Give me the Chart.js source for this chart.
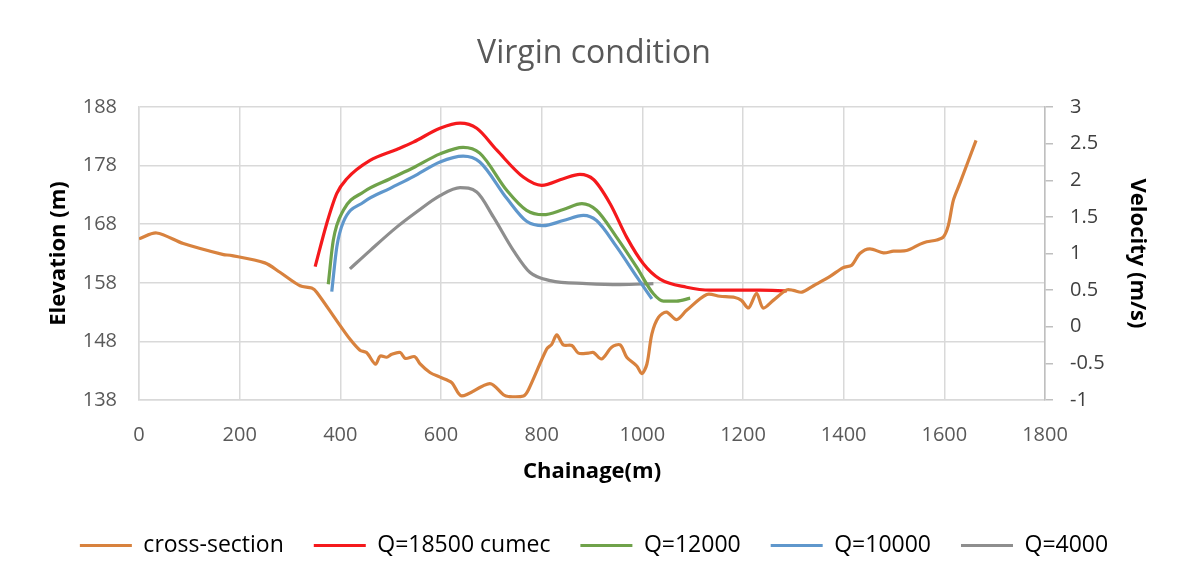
<!DOCTYPE html>
<html>
<head>
<meta charset="utf-8">
<script src="https://cdn.jsdelivr.net/npm/chart.js@4"></script>
<style>
html,body{margin:0;padding:0;background:#fff;}
#wrap{width:1188px;height:578px;position:relative;}
</style>
</head>
<body>
<div id="wrap"><canvas id="c" width="1188" height="578"></canvas></div>
<script>
const titleText = "Virgin condition";
const xTitle = "Chainage(m)";
const yLeftTitle = "Elevation (m)";
const yRightTitle = "Velocity (m/s)";
const seriesNames = ["cross-section","Q=18500 cumec","Q=12000","Q=10000","Q=4000"];

// cross-section: chainage (m), elevation (m)
const csX = [0,35,88,168,181,250,280,320,343,353,393,419,439,452,470,479,492,502,519,529,548,558,578,598,621,641,697,724,734,764,774,810,820,830,843,860,873,893,903,919,939,956,969,989,999,1009,1019,1032,1048,1068,1088,1128,1154,1184,1197,1211,1227,1240,1260,1287,1300,1317,1340,1373,1399,1416,1432,1452,1479,1499,1525,1552,1565,1585,1598,1608,1618,1631,1663];
const csY = [165.5,166.5,164.7,162.8,162.7,161.4,159.8,157.5,157.1,156.4,151.5,148.4,146.5,146.1,144.1,145.5,145.3,145.8,146.1,145.1,145.4,144.2,142.7,141.9,141.0,138.7,140.8,138.9,138.6,138.7,139.8,146.7,147.5,149.1,147.4,147.3,146.0,146.0,146.1,145.0,147.0,147.4,145.3,143.8,142.5,144.1,149.3,152.1,153.0,151.7,153.3,156.0,155.7,155.5,155.0,153.7,156.2,153.7,155.0,156.8,156.7,156.4,157.5,159.1,160.6,161.0,163.0,163.8,163.1,163.4,163.5,164.6,165.0,165.3,165.8,167.8,172.1,175.0,182.3];

// velocities (m/s)
const q18500X = [350,373,393,413,459,512,545,598,638,671,711,764,800,843,876,903,936,969,1002,1035,1088,1135,1234,1287];
const q18500Y = [0.82,1.41,1.82,2.02,2.27,2.42,2.52,2.71,2.78,2.71,2.41,2.04,1.93,2.02,2.08,2.01,1.68,1.22,0.86,0.65,0.54,0.50,0.50,0.49];

const q12000X = [376,386,406,446,499,545,598,644,677,731,770,803,843,880,909,949,989,1022,1042,1068,1095];
const q12000Y = [0.58,1.18,1.59,1.84,2.02,2.17,2.36,2.45,2.37,1.86,1.59,1.53,1.60,1.68,1.59,1.22,0.81,0.45,0.35,0.35,0.39];

const q10000X = [383,393,406,446,499,545,598,644,677,731,770,803,843,883,909,949,989,1019];
const q10000Y = [0.48,1.09,1.43,1.70,1.89,2.05,2.25,2.33,2.25,1.75,1.44,1.38,1.45,1.52,1.45,1.09,0.68,0.38];

const q4000X = [419,459,512,552,598,638,671,704,744,777,817,889,956,1022];
const q4000Y = [0.79,1.04,1.36,1.57,1.79,1.90,1.84,1.50,1.04,0.74,0.63,0.59,0.575,0.59];

const xTicks = [0,200,400,600,800,1000,1200,1400,1600,1800];
const yLeftTicks = [138,148,158,168,178,188];
const yRightTicks = ["-1","-0.5","0","0.5","1","1.5","2","2.5","3"];

const pts = (xs, ys) => xs.map((x, i) => ({x: x, y: ys[i]}));

const colors = ["#d8823e","#f5191c","#6fa24a","#5f97cc","#8e8e8e"];

const FONT = "'Open Sans', 'Liberation Sans', sans-serif";

const ds = [
  {label: seriesNames[0], data: pts(csX, csY), yAxisID: 'y', borderColor: colors[0], backgroundColor: colors[0], tension: 0.3},
  {label: seriesNames[1], data: pts(q18500X, q18500Y), yAxisID: 'y1', borderColor: colors[1], backgroundColor: colors[1], cubicInterpolationMode: 'monotone'},
  {label: seriesNames[2], data: pts(q12000X, q12000Y), yAxisID: 'y1', borderColor: colors[2], backgroundColor: colors[2], cubicInterpolationMode: 'monotone'},
  {label: seriesNames[3], data: pts(q10000X, q10000Y), yAxisID: 'y1', borderColor: colors[3], backgroundColor: colors[3], cubicInterpolationMode: 'monotone'},
  {label: seriesNames[4], data: pts(q4000X, q4000Y), yAxisID: 'y1', borderColor: colors[4], backgroundColor: colors[4], cubicInterpolationMode: 'monotone'}
].map(d => Object.assign({borderWidth: 3.2, pointRadius: 0, fill: false, borderCapStyle: 'butt'}, d));

new Chart(document.getElementById('c'), {
  type: 'line',
  data: {datasets: ds},
  options: {
    responsive: false,
    animation: false,
    layout: {padding: {left: 0, right: 0, top: 0, bottom: 11}},
    plugins: {
      title: {
        display: true, text: titleText, color: '#595959',
        font: {family: FONT, size: 32, weight: 'normal'},
        padding: {top: 35, bottom: 33.6}
      },
      legend: {
        position: 'bottom',
        labels: {
          color: '#000', font: {family: FONT, size: 23},
          boxWidth: 52, boxHeight: 3, padding: 30,
          generateLabels: (chart) => chart.data.datasets.map((d, i) => ({
            text: d.label, fillStyle: d.borderColor, strokeStyle: d.borderColor,
            lineWidth: 0, hidden: false, datasetIndex: i, fontColor: '#000'
          }))
        }
      },
      tooltip: {enabled: false}
    },
    scales: {
      x: {
        type: 'linear', min: 0, max: 1800,
        afterBuildTicks: (s) => { s.ticks = xTicks.map(v => ({value: v})); },
        afterFit: (s) => { s.height = 104; },
        ticks: {color: '#595959', font: {family: FONT, size: 20}, padding: 23, maxRotation: 0,
          callback: (v) => String(v)},
        grid: {color: '#d9d9d9', lineWidth: 1.5, drawTicks: false},
        border: {display: true, color: '#d9d9d9', width: 1.5},
        title: {display: true, text: xTitle, color: '#000', font: {family: FONT, size: 22, weight: 'bold'}, padding: {top: 4, bottom: 19}}
      },
      y: {
        type: 'linear', position: 'left', min: 138, max: 188,
        afterBuildTicks: (s) => { s.ticks = yLeftTicks.map(v => ({value: v})); },
        afterFit: (s) => { s.width = 139; },
        ticks: {color: '#595959', font: {family: FONT, size: 20}, padding: 22, callback: (v) => String(v)},
        grid: {color: '#d9d9d9', lineWidth: 1.5, drawTicks: false},
        border: {display: true, color: '#d9d9d9', width: 1.5},
        title: {display: true, text: yLeftTitle, color: '#000', font: {family: FONT, size: 22, weight: 'bold'}, padding: {top: 46, bottom: 0}}
      },
      y1: {
        type: 'linear', position: 'right', min: -1, max: 3,
        afterBuildTicks: (s) => { s.ticks = yRightTicks.map(v => ({value: parseFloat(v)})); },
        afterFit: (s) => { s.width = 143; },
        ticks: {color: '#404040', font: {family: FONT, size: 20}, padding: 17,
          callback: (v) => yRightTicks[yRightTicks.map(parseFloat).indexOf(v)] },
        grid: {drawOnChartArea: false, drawTicks: true, tickLength: 8, color: '#bfbfbf', lineWidth: 1.5},
        border: {display: true, color: '#bfbfbf', width: 1.5},
        title: {display: true, text: yRightTitle, color: '#000', font: {family: FONT, size: 22, weight: 'bold'}, padding: {top: 38, bottom: 0}}
      }
    }
  }
});
</script>
</body>
</html>
